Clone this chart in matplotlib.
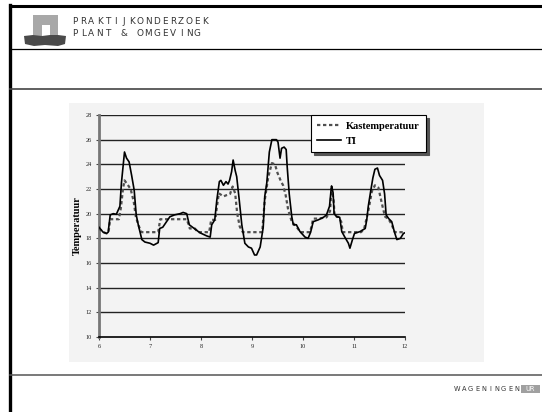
import matplotlib
matplotlib.use("Agg")
import matplotlib.pyplot as plt
from matplotlib.patches import Rectangle, Polygon
from matplotlib.lines import Line2D

# --- data -----------------------------------------------------------------
ti_day = [6.00, 6.08, 6.15, 6.18, 6.22, 6.28, 6.34, 6.41, 6.44, 6.50,
          6.54, 6.59, 6.64, 6.69, 6.73, 6.77, 6.84, 6.90, 7.00, 7.07,
          7.16, 7.19, 7.25, 7.39, 7.48, 7.59, 7.65, 7.72, 7.77, 7.85,
          7.98, 8.11, 8.18, 8.21, 8.27, 8.31, 8.36, 8.39, 8.44, 8.49,
          8.53, 8.56, 8.60, 8.63, 8.67, 8.70, 8.75, 8.80, 8.86, 8.93,
          8.99, 9.05, 9.09, 9.16, 9.22, 9.25, 9.29, 9.34, 9.39, 9.48,
          9.51, 9.55, 9.58, 9.63, 9.67, 9.69, 9.73, 9.78, 9.81, 9.87,
          9.94, 10.04, 10.10, 10.15, 10.20, 10.30, 10.40, 10.46, 10.52, 10.55,
          10.56, 10.59, 10.61, 10.66, 10.72, 10.76, 10.82, 10.89, 10.92, 10.97,
          11.01, 11.12, 11.22, 11.25, 11.28, 11.33, 11.37, 11.41, 11.46, 11.50,
          11.56, 11.60, 11.63, 11.68, 11.74, 11.79, 11.84, 11.91, 11.97, 12.00]
ti_val = [18.9, 18.5, 18.4, 18.5, 19.9, 20.0, 19.95, 20.6, 22.5, 25.0,
          24.5, 24.2, 23.1, 21.9, 19.9, 19.1, 17.9, 17.7, 17.6, 17.45,
          17.65, 18.8, 18.9, 19.75, 19.9, 20.0, 20.1, 20.0, 19.1, 18.85,
          18.45, 18.2, 18.1, 19.1, 19.5, 21.1, 22.6, 22.7, 22.3, 22.6,
          22.4, 22.7, 23.4, 24.35, 23.5, 23.0, 21.1, 19.1, 17.6, 17.3,
          17.2, 16.65, 16.65, 17.3, 18.9, 21.4, 22.5, 25.0, 26.0, 26.0,
          25.8, 24.5, 25.3, 25.4, 25.2, 23.8, 21.6, 19.75, 19.1, 19.1,
          18.55, 18.1, 18.0, 18.5, 19.35, 19.5, 19.7, 19.9, 20.6, 21.9,
          22.25, 21.7, 20.0, 19.75, 19.7, 18.55, 18.1, 17.6, 17.2, 17.9,
          18.4, 18.55, 18.8, 19.5, 20.6, 21.9, 22.9, 23.6, 23.7, 23.1,
          22.7, 21.6, 19.9, 19.6, 19.35, 18.55, 17.9, 18.0, 18.4, 18.45]

kas_day = [6.00, 6.08, 6.15, 6.19, 6.22, 6.39, 6.43, 6.47, 6.50, 6.57,
           6.62, 6.68, 6.72, 6.77, 6.82, 6.84, 7.16, 7.18, 7.20, 7.72,
           7.75, 7.78, 7.88, 7.94, 8.16, 8.20, 8.28, 8.31, 8.35, 8.44,
           8.50, 8.57, 8.62, 8.67, 8.71, 8.76, 8.82, 9.20, 9.25, 9.32,
           9.39, 9.45, 9.50, 9.57, 9.61, 9.66, 9.71, 9.78, 9.87, 9.95,
           10.14, 10.20, 10.30, 10.46, 10.53, 10.56, 10.60, 10.62, 10.69, 10.75,
           10.78, 11.14, 11.20, 11.28, 11.35, 11.41, 11.48, 11.51, 11.57, 11.61,
           11.67, 11.73, 11.80, 12.00]
kas_val = [18.8, 18.5, 18.4, 18.6, 19.55, 19.55, 20.5, 22.0, 22.7, 22.3,
           22.0, 21.0, 19.8, 19.1, 18.6, 18.5, 18.5, 19.0, 19.55, 19.55,
           19.2, 18.8, 18.8, 18.5, 18.5, 19.5, 19.5, 20.5, 21.65, 21.4,
           21.5, 21.6, 22.2, 21.65, 20.0, 18.95, 18.5, 18.5, 21.1, 23.0,
           24.1, 24.0, 23.3, 22.6, 22.3, 21.5, 20.3, 19.35, 18.95, 18.5,
           18.5, 19.6, 19.6, 19.7, 20.2, 22.05, 21.1, 19.8, 19.75, 19.35,
           18.5, 18.5, 18.8, 20.2, 21.8, 22.3, 22.1, 21.5, 20.4, 19.75,
           19.6, 19.2, 18.5, 18.5]

x_ticks = [6, 7, 8, 9, 10, 11, 12]
y_ticks = [10, 12, 14, 16, 18, 20, 22, 24, 26, 28]
series_labels = ["Kastemperatuur", "TI"]
y_label = "Temperatuur"

# --- figure ---------------------------------------------------------------
W, H = 542, 412
fig = plt.figure(figsize=(W / 100, H / 100), dpi=100)
fig.patch.set_facecolor("white")

# page overlay in pixel coordinates (origin top-left)
bg = fig.add_axes([0, 0, 1, 1], zorder=0)
bg.set_xlim(0, W)
bg.set_ylim(H, 0)
bg.axis("off")

# slide frame lines
bg.add_line(Line2D([10, W], [6, 6], color="black", lw=2.2))
bg.add_line(Line2D([10, 10], [5, H], color="black", lw=2.4))
bg.add_line(Line2D([10, W], [48.5, 48.5], color="black", lw=0.9))
bg.add_line(Line2D([10, W], [89, 89], color="#444444", lw=1.2))
bg.add_line(Line2D([10, W], [375, 375], color="#555555", lw=1.1))

# logo: gate block on dark ground
bg.add_patch(Rectangle((33, 15), 25, 22, color="#a8a8a8", lw=0))
bg.add_patch(Rectangle((42, 25), 8, 12, color="white", lw=0))
bg.add_patch(Polygon([(24, 36), (33, 35), (42, 36), (50, 35), (58, 35),
                      (66, 36), (65, 44), (58, 46), (45, 45), (34, 46),
                      (25, 44)], closed=True, color="#4a4a4a", lw=0))


def spaced(text, x0, y0, step, size, color, weight="normal"):
    # each character centred in a fixed-width cell
    for i, ch in enumerate(text):
        bg.text(x0 + (i + 0.5) * step, y0, ch, fontsize=size, color=color,
                family="DejaVu Sans", fontweight=weight,
                ha="center", va="center")


spaced("PRAKTIJKONDERZOEK", 71, 21.5, 8.15, 6.4, "#333333")
spaced("PLANT & OMGEVING", 71, 33.5, 8.15, 6.4, "#333333")
spaced("WAGENINGEN", 454, 389, 6.6, 4.8, "#333333")
bg.add_patch(Rectangle((521, 385), 19, 8, color="#a0a0a0", lw=0))
bg.text(530.5, 389, "UR", fontsize=4.8, color="white", ha="center",
        va="center", family="DejaVu Sans")

# chart area
bg.add_patch(Rectangle((69, 103), 415, 259, color="#f3f3f3", lw=0))

# --- plot axes ------------------------------------------------------------
ax = fig.add_axes([99 / W, 1 - 337 / H, (405 - 99) / W, (337 - 115) / H],
                  zorder=1)
ax.set_facecolor("#f3f3f3")
ax.set_xlim(6, 12)
ax.set_ylim(10, 28)
ax.set_xticks(x_ticks)
ax.set_yticks(y_ticks)
ax.set_xticklabels([str(t) for t in x_ticks])
ax.set_yticklabels([str(t) for t in y_ticks])
for y in y_ticks[1:]:
    ax.axhline(y, color="#222222", lw=1.0, zorder=1)

ax.plot(kas_day, kas_val, color="#505050", lw=1.6,
        linestyle=(0, (1.5, 1.2)), label=series_labels[0], zorder=3)
ax.plot(ti_day, ti_val, color="black", lw=1.2,
        label=series_labels[1], zorder=4)

for side in ("top", "right"):
    ax.spines[side].set_visible(False)
ax.spines["left"].set_color("#777777")
ax.spines["left"].set_linewidth(2.0)
ax.spines["bottom"].set_color("black")
ax.spines["bottom"].set_linewidth(1.2)
ax.tick_params(axis="both", labelsize=4.5, length=2.5, width=0.8,
               color="#444444", labelcolor="#222222", pad=2.5)
for lab in ax.get_xticklabels() + ax.get_yticklabels():
    lab.set_family("Liberation Serif")

ax.set_ylabel(y_label, family="Liberation Serif", fontweight="bold",
              fontsize=7.5, labelpad=3)

leg = ax.legend(loc="upper left", bbox_to_anchor=(311 / W, 1 - 115 / H),
                bbox_transform=fig.transFigure, frameon=True, fancybox=False,
                shadow={"color": "#555555", "alpha": 1.0},
                edgecolor="black", facecolor="white",
                framealpha=1, borderpad=0.6, handlelength=2.3,
                handletextpad=0.45, labelspacing=0.55, borderaxespad=0,
                prop={"family": "Liberation Serif", "weight": "bold",
                      "size": 7.5})
leg.get_frame().set_linewidth(0.8)

fig.savefig("out.png", dpi=100)
